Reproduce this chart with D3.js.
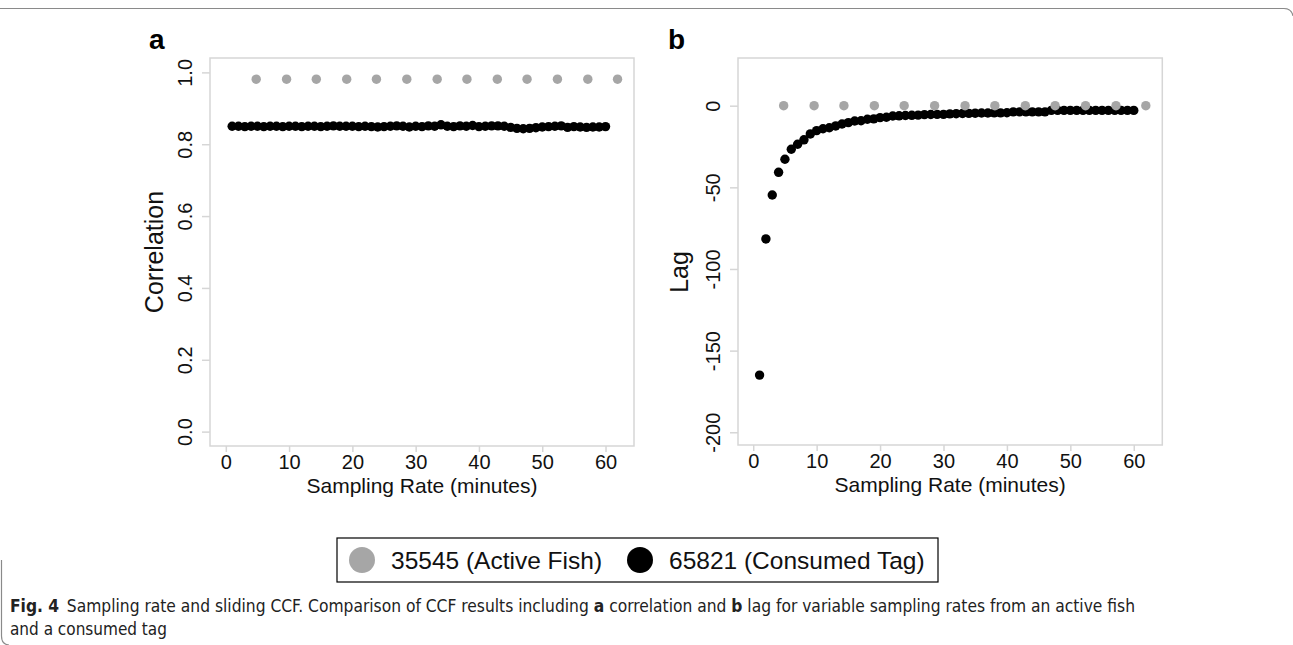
<!DOCTYPE html>
<html>
<head>
<meta charset="utf-8">
<script src="https://cdn.jsdelivr.net/npm/d3@7"></script>
<style>
  html, body { margin: 0; padding: 0; background: #fff; }
  svg { display: block; }
</style>
</head>
<body>
<svg id="chart" width="1293" height="645"></svg>
<script>
// ---------------- DATA ----------------
const seriesNames = ["35545 (Active Fish)", "65821 (Consumed Tag)"];
const seriesColors = ["#a6a6a6", "#000000"];

// Sampling rates (minutes)
const fishRates = [4.8, 9.6, 14.3, 19.1, 23.8, 28.6, 33.4, 38.1, 42.9, 47.6, 52.4, 57.2, 61.9];
const tagRates = [1,2,3,4,5,6,7,8,9,10,11,12,13,14,15,16,17,18,19,20,
                  21,22,23,24,25,26,27,28,29,30,31,32,33,34,35,36,37,38,39,40,
                  41,42,43,44,45,46,47,48,49,50,51,52,53,54,55,56,57,58,59,60];

// Panel a: correlation
const fishCorr = [0.981,0.981,0.981,0.981,0.981,0.981,0.981,0.981,0.981,0.981,0.981,0.981,0.981];
const tagCorr = [0.850,0.850,0.849,0.850,0.850,0.849,0.850,0.850,0.849,0.850,
                 0.850,0.849,0.850,0.850,0.849,0.850,0.851,0.850,0.850,0.850,
                 0.849,0.850,0.849,0.848,0.849,0.850,0.851,0.850,0.848,0.850,
                 0.849,0.851,0.850,0.854,0.850,0.849,0.851,0.850,0.852,0.849,
                 0.850,0.851,0.851,0.850,0.847,0.844,0.843,0.844,0.846,0.848,
                 0.849,0.850,0.851,0.847,0.849,0.848,0.847,0.848,0.848,0.849];

// Panel b: lag
const fishLag = [0,0,0,0,0,0,0,0,0,0,0,0,0];
const tagLag = [-165,-81.6,-54.7,-40.8,-32.8,-26.7,-23.6,-20.9,-17.3,-15.3,
                -14.1,-13.5,-12.4,-11.2,-10.4,-9.4,-9.2,-8.3,-8.1,-7.3,
                -7.1,-6.3,-6.2,-6.0,-5.9,-5.8,-5.5,-5.4,-5.3,-5.3,
                -5.0,-4.9,-4.8,-4.7,-4.6,-4.5,-4.5,-4.4,-4.4,-4.3,
                -3.8,-3.8,-3.8,-3.8,-3.8,-3.8,-2.9,-2.9,-2.9,-2.9,
                -2.9,-2.9,-2.9,-2.9,-2.9,-2.9,-2.9,-2.9,-2.9,-2.9];

// Tick labels
const xTicks = [0, 10, 20, 30, 40, 50, 60];
const corrTicks = [0.0, 0.2, 0.4, 0.6, 0.8, 1.0];
const corrTickLabels = ["0.0", "0.2", "0.4", "0.6", "0.8", "1.0"];
const lagTicks = [0, -50, -100, -150, -200];
const lagTickLabels = ["0", "-50", "-100", "-150", "-200"];

const xTitle = "Sampling Rate (minutes)";
const panelTitles = ["Correlation", "Lag"];
const panelLetters = ["a", "b"];

// ---------------- DRAW ----------------
const svg = d3.select("#chart");
const AX_FONT = "'Liberation Sans', Arial, Helvetica, sans-serif";
const FRAME = "#d6d6d6";

// outer figure border (rounded box)
svg.append("path")
  .attr("d", "M0,8.5 H1284 Q1291.5,8.5 1293,16")
  .attr("fill", "none").attr("stroke", "#8a8a8a").attr("stroke-width", 1.2);
svg.append("path")
  .attr("d", "M1.5,560 V636 Q1.5,644.5 9,645")
  .attr("fill", "none").attr("stroke", "#8a8a8a").attr("stroke-width", 1.2);

function panel(opts) {
  const g = svg.append("g");
  const x = d3.scaleLinear().domain(opts.xDomain).range([opts.left, opts.right]);
  const y = d3.scaleLinear().domain(opts.yDomain).range([opts.bottom, opts.top]);

  // frame
  g.append("rect")
    .attr("x", x.range()[0]).attr("y", y.range()[1])
    .attr("width", x.range()[1] - x.range()[0])
    .attr("height", y.range()[0] - y.range()[1])
    .attr("fill", "none").attr("stroke", FRAME).attr("stroke-width", 1.5);

  // x axis
  const xa = g.append("g")
    .attr("transform", `translate(0,${y.range()[0]})`)
    .call(d3.axisBottom(x).tickValues(xTicks).tickSize(6).tickFormat(d => String(d)));
  xa.select(".domain").remove();
  xa.selectAll(".tick line").attr("stroke", FRAME).attr("stroke-width", 1.5);
  xa.selectAll(".tick text")
    .attr("font-family", AX_FONT).attr("font-size", 20).attr("fill", "#111")
    .attr("dy", "0.71em").attr("y", 9);

  // y axis (rotated tick labels)
  const ya = g.append("g")
    .attr("transform", `translate(${x.range()[0]},0)`)
    .call(d3.axisLeft(y).tickValues(opts.yTicks).tickSize(8)
      .tickFormat((d, i) => opts.yLabels[i]));
  ya.select(".domain").remove();
  ya.selectAll(".tick line").attr("stroke", FRAME).attr("stroke-width", 1.5);
  ya.selectAll(".tick text")
    .attr("font-family", AX_FONT).attr("font-size", 20).attr("fill", "#111")
    .attr("x", null).attr("dy", null)
    .attr("text-anchor", "middle")
    .attr("transform", `translate(${-18},0) rotate(-90)`);

  // axis titles
  g.append("text")
    .attr("x", (x.range()[0] + x.range()[1]) / 2)
    .attr("y", y.range()[0] + 47)
    .attr("text-anchor", "middle")
    .attr("font-family", AX_FONT).attr("font-size", 21).attr("fill", "#111")
    .text(xTitle);
  g.append("text")
    .attr("transform", `translate(${x.range()[0] - opts.yTitleOffset},${opts.yTitleY}) rotate(-90)`)
    .attr("text-anchor", "middle")
    .attr("font-family", AX_FONT).attr("font-size", 25).attr("fill", "#111")
    .text(opts.yTitle);

  // panel letter
  g.append("text")
    .attr("x", x.range()[0] - opts.letterDx).attr("y", 49)
    .attr("font-family", AX_FONT).attr("font-weight", "bold").attr("font-size", 28).attr("fill", "#000")
    .text(opts.letter);

  // points: consumed tag first, active fish on top
  g.append("g").selectAll("circle")
    .data(tagRates.map((r, i) => [r, opts.tagVals[i]]))
    .join("circle")
    .attr("cx", d => x(d[0])).attr("cy", d => y(d[1])).attr("r", 4.7)
    .attr("fill", seriesColors[1]);
  g.append("g").selectAll("circle")
    .data(fishRates.map((r, i) => [r, opts.fishVals[i]]))
    .join("circle")
    .attr("cx", d => x(d[0])).attr("cy", d => y(d[1])).attr("r", 4.7)
    .attr("fill", seriesColors[0]);
}

panel({
  left: 210, right: 634, top: 58, bottom: 446,
  xDomain: [-2.5, 64.5], yDomain: [-0.04, 1.04],
  yTicks: corrTicks, yLabels: corrTickLabels,
  yTitle: panelTitles[0], yTitleOffset: 47, yTitleY: 252,
  letter: panelLetters[0], letterDx: 61,
  tagVals: tagCorr, fishVals: fishCorr
});

panel({
  left: 738, right: 1162.3, top: 58, bottom: 445,
  xDomain: [-2.4, 64.5], yDomain: [-207.8, 29.2],
  yTicks: lagTicks, yLabels: lagTickLabels,
  yTitle: panelTitles[1], yTitleOffset: 50, yTitleY: 272,
  letter: panelLetters[1], letterDx: 70,
  tagVals: tagLag, fishVals: fishLag
});

// ---------------- LEGEND ----------------
const leg = svg.append("g");
leg.append("rect")
  .attr("x", 337).attr("y", 538).attr("width", 601).attr("height", 44)
  .attr("fill", "#fff").attr("stroke", "#000").attr("stroke-width", 1.2);
const items = leg.selectAll("g.item").data(seriesNames).join("g").attr("class", "item");
const itemX = [362, 640];
items.append("circle")
  .attr("cx", (d, i) => itemX[i]).attr("cy", 560).attr("r", 13)
  .attr("fill", (d, i) => seriesColors[i]);
items.append("text")
  .attr("x", (d, i) => itemX[i] + 29).attr("y", 569)
  .attr("font-family", AX_FONT).attr("font-size", 24.5).attr("fill", "#111")
  .text(d => d);

// ---------------- CAPTION ----------------
const CAP_FONT = "'DejaVu Sans Condensed', 'Liberation Sans Narrow', 'Open Sans', sans-serif";
const cap = svg.append("text")
  .attr("x", 10).attr("y", 612)
  .attr("font-family", CAP_FONT).attr("font-size", 17).attr("fill", "#222")
  .attr("textLength", 1125).attr("lengthAdjust", "spacingAndGlyphs");
cap.append("tspan").attr("font-weight", "bold").text("Fig. 4");
cap.append("tspan").text("\u2002Sampling rate and sliding CCF. Comparison of CCF results including ");
cap.append("tspan").attr("font-weight", "bold").text("a");
cap.append("tspan").text(" correlation and ");
cap.append("tspan").attr("font-weight", "bold").text("b");
cap.append("tspan").text(" lag for variable sampling rates from an active fish");
svg.append("text")
  .attr("x", 10).attr("y", 635)
  .attr("font-family", CAP_FONT).attr("font-size", 17).attr("fill", "#222")
  .text("and a consumed tag");
</script>
</body>
</html>
